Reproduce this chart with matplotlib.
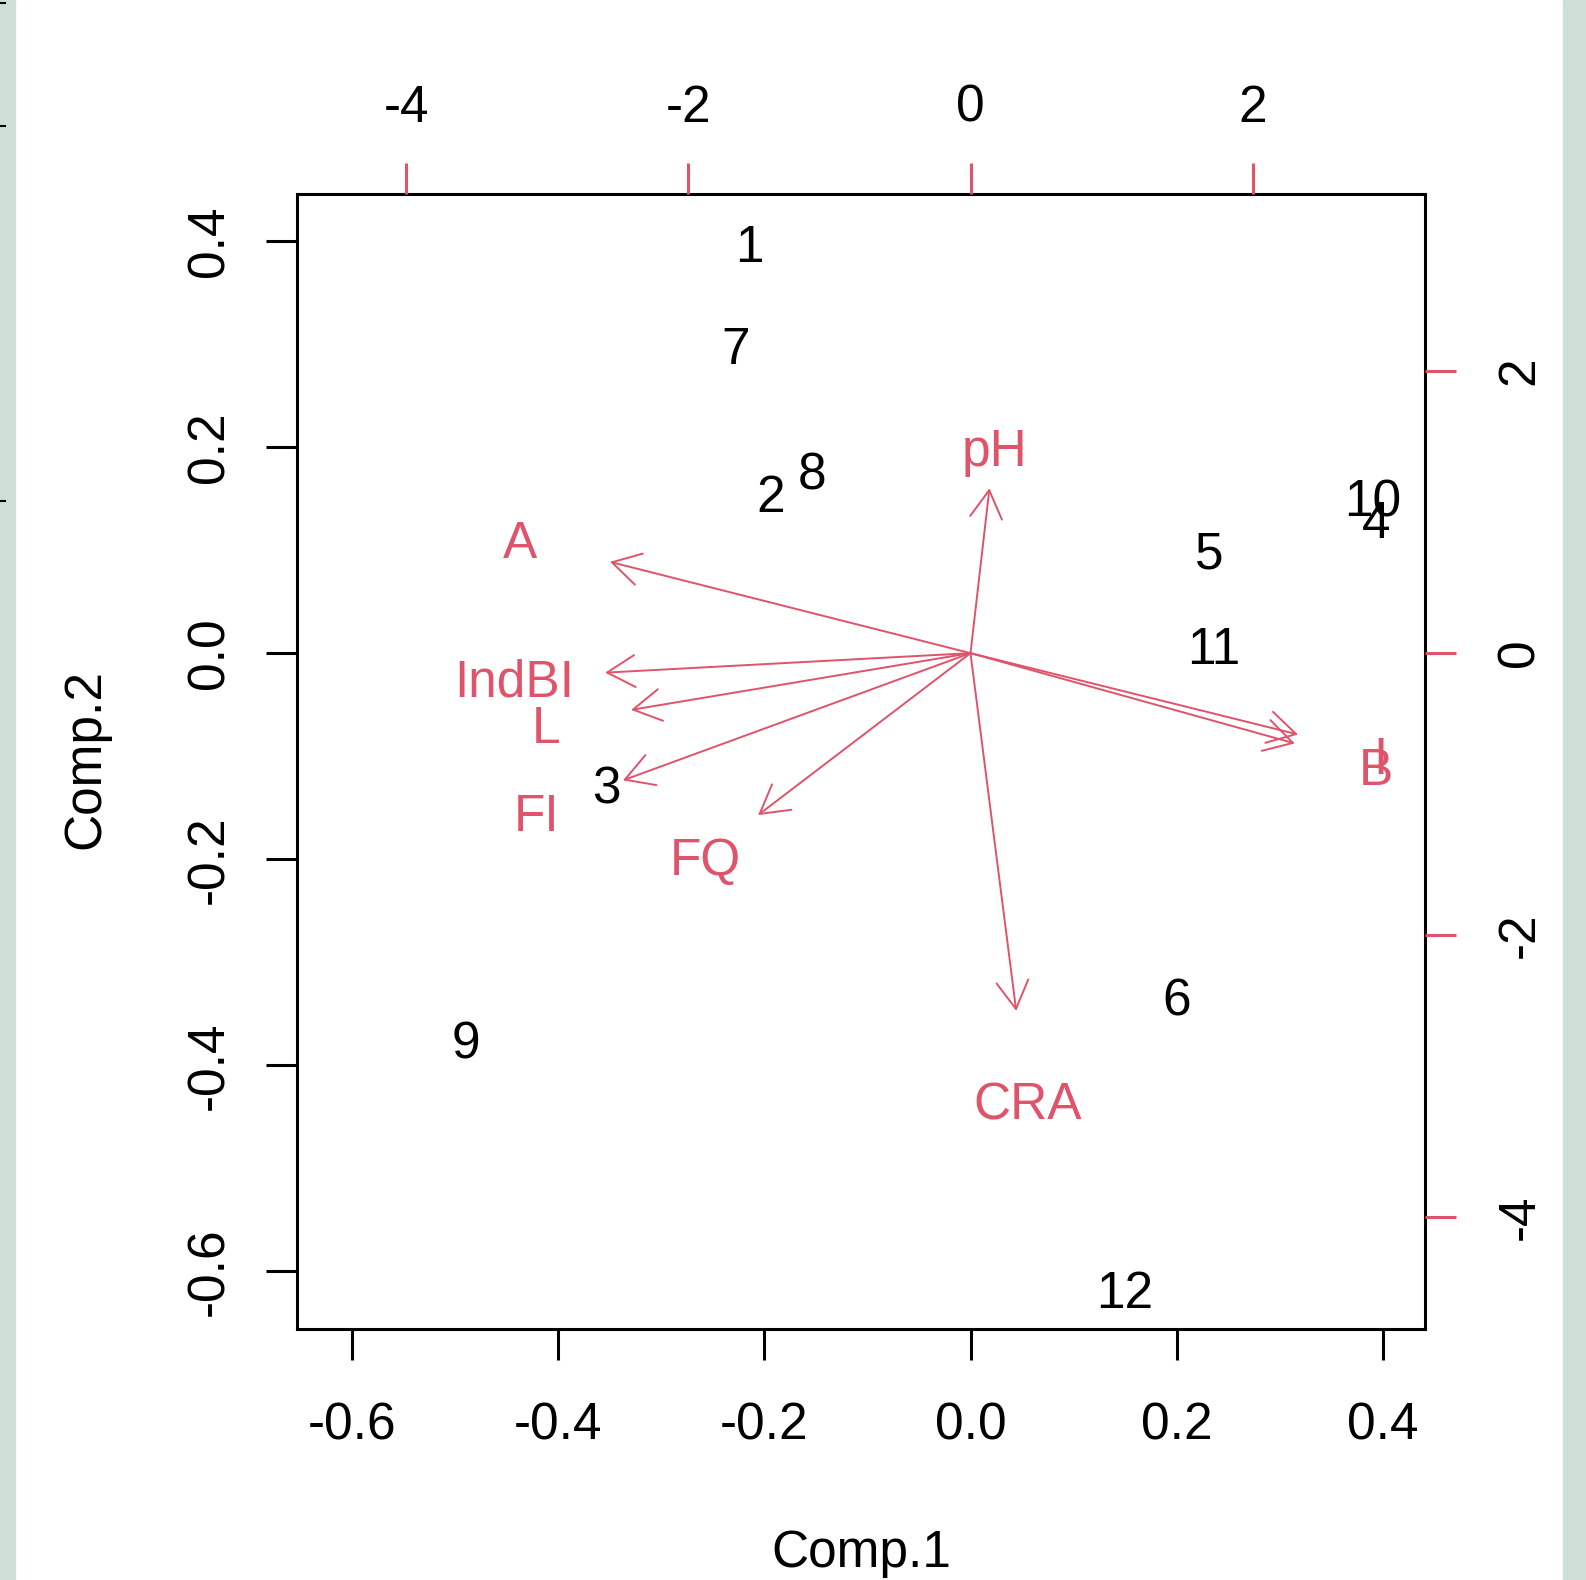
import matplotlib
matplotlib.use("Agg")
import matplotlib.pyplot as plt
from matplotlib.patches import FancyArrowPatch, Rectangle
from matplotlib.lines import Line2D

plt.rcParams['font.family'] = ['Liberation Sans', 'DejaVu Sans']

# scores (Comp.1, Comp.2) of the 12 observations
obs = ["1", "2", "3", "4", "5", "6", "7", "8", "9", "10", "11", "12"]
comp1 = [-0.215, -0.194, -0.353, 0.394, 0.232, 0.200, -0.228, -0.154, -0.490, 0.390, 0.236, 0.150]
comp2 = [0.398, 0.155, -0.127, 0.130, 0.101, -0.333, 0.299, 0.177, -0.375, 0.151, 0.008, -0.617]

# loadings of the variables (label positions, arrows drawn to 0.8 of them)
variables = ["A", "IndBI", "L", "FI", "FQ", "pH", "CRA", "B", "I"]
load1 = [-3.194, -3.237, -3.007, -3.079, -1.882, 0.168, 0.405, 2.873, 2.902]
load2 = [0.809, -0.173, -0.503, -1.127, -1.435, 1.461, -3.170, -0.800, -0.721]

score_ticks = [-0.6, -0.4, -0.2, 0.0, 0.2, 0.4]
score_labels = ["-0.6", "-0.4", "-0.2", "0.0", "0.2", "0.4"]
load_ticks = [-4, -2, 0, 2]
load_labels = ["-4", "-2", "0", "2"]

red = "#DF536B"
fs = 37
W, H = 1586, 1580
fig = plt.figure(figsize=(W / 100, H / 100), dpi=100)
fig.patch.set_facecolor("white")

# greenish strips at the side edges of the screenshot
green = "#CFE0D8"
fig.patches.append(Rectangle((0, 0), 15 / W, 1, transform=fig.transFigure, color=green, zorder=0))
fig.patches.append(Rectangle((1563 / W, 0), 1 - 1563 / W, 1, transform=fig.transFigure, color=green, zorder=0))
for yy in [3, 126, 501]:
    fig.lines.append(Line2D([0, 5 / W], [1 - yy / H] * 2, transform=fig.transFigure, color="black", lw=1.5))

pos = [297 / W, 1 - 1329 / H, (1425 - 297) / W, (1329 - 194) / H]
ax = fig.add_axes(pos)
ax.set_xlim(-0.6535, 0.441)
ax.set_ylim(-0.6558, 0.4455)
k = 7.305
ax2 = fig.add_axes(pos)
ax2.patch.set_visible(False)
ax2.set_xlim(-0.6535 * k, 0.441 * k)
ax2.set_ylim(-0.6558 * k, 0.4455 * k)
for s in ax2.spines.values():
    s.set_visible(False)
for s in ax.spines.values():
    s.set_linewidth(2.2)

ax.set_xticks(score_ticks)
ax.set_xticklabels(score_labels)
ax.set_yticks(score_ticks)
ax.set_yticklabels(score_labels, rotation=90, va="center")
ax.tick_params(length=22, width=2.2, labelsize=fs)
ax.tick_params(axis="x", pad=30)
ax.tick_params(axis="y", pad=23)

ax2.xaxis.tick_top()
ax2.yaxis.tick_right()
ax2.set_xticks(load_ticks)
ax2.set_xticklabels(load_labels)
ax2.set_yticks(load_ticks)
ax2.set_yticklabels(load_labels, rotation=90, va="center")
ax2.tick_params(length=22, width=2.2, labelsize=fs, color=red, labelcolor="black")
ax2.tick_params(axis="x", pad=22)
ax2.tick_params(axis="y", pad=29)

for lab, x, y in zip(obs, comp1, comp2):
    ax.text(x, y, lab, fontsize=fs, ha="center", va="center_baseline", color="black")

for lab, x, y in zip(variables, load1, load2):
    arr = FancyArrowPatch((0, 0), (0.8 * x, 0.8 * y), arrowstyle="->,head_length=20,head_width=11.5",
                          mutation_scale=1, shrinkA=0, shrinkB=0, color=red, lw=1.4,
                          transform=ax2.transData)
    ax2.add_patch(arr)
    ax2.text(x, y, lab, fontsize=fs, ha="center", va="center_baseline", color=red)

fig.text(861 / W, 1 - 1567 / H, "Comp.1", fontsize=fs, ha="center", va="baseline")
fig.text(86 / W, 1 - 759 / H, "Comp.2", fontsize=fs, ha="center", va="center", rotation=90)

fig.savefig("out.png", dpi=100)
